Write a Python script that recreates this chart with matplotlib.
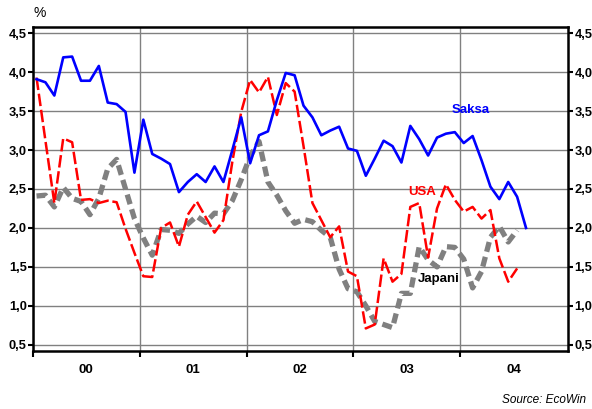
import numpy as np
import matplotlib
matplotlib.use('Agg')
import matplotlib.pyplot as plt

plt.rcParams['font.family'] = ['Liberation Sans', 'DejaVu Sans']

# kuukausidata tammikuu 2000 - elokuu 2004
saksa = [3.91, 3.87, 3.70, 4.19, 4.20, 3.89, 3.89, 4.08, 3.61, 3.59, 3.49, 2.71,
         3.39, 2.95, 2.89, 2.82, 2.46, 2.59, 2.69, 2.59, 2.79, 2.59, 3.00, 3.42,
         2.83, 3.19, 3.24, 3.64, 3.99, 3.96, 3.57, 3.42, 3.19, 3.25, 3.30, 3.02,
         2.99, 2.67, 2.89, 3.12, 3.05, 2.84, 3.31, 3.14, 2.93, 3.16, 3.21, 3.23,
         3.09, 3.18, 2.87, 2.53, 2.37, 2.59, 2.40, 2.00]
usa = [3.93, 3.12, 2.32, 3.15, 3.10, 2.36, 2.37, 2.32, 2.35, 2.33, 1.99, 1.68,
       1.38, 1.37, 2.00, 2.07, 1.76, 2.17, 2.34, 2.14, 1.94, 2.10, 2.85, 3.49,
       3.90, 3.74, 3.94, 3.45, 3.86, 3.75, 3.05, 2.32, 2.10, 1.88, 2.02, 1.44,
       1.38, 0.71, 0.76, 1.61, 1.31, 1.41, 2.27, 2.32, 1.62, 2.25, 2.56, 2.36,
       2.21, 2.27, 2.12, 2.23, 1.61, 1.31, 1.48]
japani = [2.41, 2.42, 2.27, 2.52, 2.38, 2.34, 2.17, 2.38, 2.76, 2.88, 2.50, 2.12,
          1.87, 1.65, 1.98, 1.97, 1.93, 2.05, 2.15, 2.07, 2.19, 2.18, 2.35, 2.62,
          2.92, 3.11, 2.59, 2.42, 2.22, 2.06, 2.11, 2.08, 1.97, 1.88, 1.47, 1.22,
          1.18, 1.00, 0.80, 0.76, 0.72, 1.16, 1.16, 1.76, 1.59, 1.50, 1.76, 1.75,
          1.60, 1.23, 1.44, 1.88, 2.02, 1.82, 1.97]
vuodet = ['00', '01', '02', '03', '04']

def kuukaudet(n):
    return 2000 + (np.arange(n) + 0.4) / 12

fig = plt.figure(figsize=(5.92, 4.09), dpi=100)
ax = fig.add_axes([0.0557, 0.1418, 0.9038, 0.7922])

ax.plot(kuukaudet(len(japani)), japani, color='#808080', lw=3.8,
        dashes=(1.9, 1.0), zorder=3)
ax.plot(kuukaudet(len(usa)), usa, color='#ff0000', lw=1.8,
        dashes=(5, 1.5), zorder=4)
ax.plot(kuukaudet(len(saksa)), saksa, color='#0000ff', lw=1.9, zorder=5)

ax.set_xlim(2000, 2005.01)
ax.set_ylim(0.42, 4.58)

yt = np.arange(0.5, 4.51, 0.5)
ax.set_yticks(yt)
ax.set_yticklabels([f'{v:.1f}'.replace('.', ',') for v in yt])
ax.tick_params(axis='y', which='both', left=True, right=True, labelleft=True,
               labelright=True, direction='out', length=3.5, width=1.5,
               labelsize=9.3, pad=1)
for lab in ax.get_yticklabels():
    lab.set_fontweight('bold')

ax.set_xticks([2000, 2001, 2002, 2003, 2004])
ax.set_xticklabels([])
ax.set_xticks([2000.5 + i for i in range(len(vuodet))], minor=True)
ax.set_xticklabels(vuodet, minor=True, fontweight='bold', fontsize=9.5)
ax.tick_params(axis='x', which='major', direction='out', length=4, width=1.5)
ax.tick_params(axis='x', which='minor', length=0, pad=9)

ax.grid(True, which='major', color='#808080', lw=1)
ax.set_axisbelow(True)
for s in ax.spines.values():
    s.set_linewidth(1.8)

ax.text(2004.1, 3.51, 'Saksa', color='#0000ff', fontsize=9.5, fontweight='bold',
        ha='center', va='center')
ax.text(2003.64, 2.46, 'USA', color='#ff0000', fontsize=9.5, fontweight='bold',
        ha='center', va='center')
ax.text(2003.8, 1.34, 'Japani', color='black', fontsize=9.5, fontweight='bold',
        ha='center', va='center')

fig.text(40 / 592, 1 - 13 / 409, '%', fontsize=10, ha='center', va='center')
fig.text(586 / 592, 1 - 400 / 409, 'Source: EcoWin', fontsize=8.5,
         style='italic', ha='right', va='center')

fig.savefig('out.png', dpi=100)
